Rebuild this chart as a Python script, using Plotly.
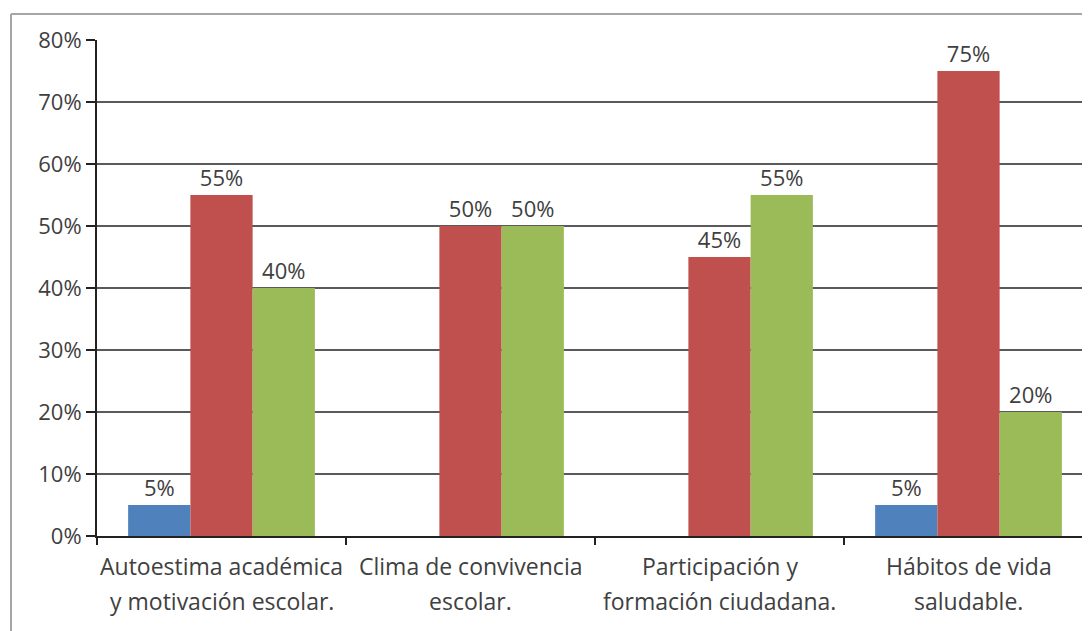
import plotly.graph_objects as go

categories = [
    "Autoestima académica y motivación escolar.",
    "Clima de convivencia escolar.",
    "Participación y formación ciudadana.",
    "Hábitos de vida saludable.",
]
label_line1 = ["Autoestima académica", "Clima de convivencia", "Participación y", "Hábitos de vida"]
label_line2 = ["y motivación escolar.", "escolar.", "formación ciudadana.", "saludable."]

series_names = ["Serie 1", "Serie 2", "Serie 3"]
series_values = [
    [5, 0, 0, 5],
    [55, 50, 45, 75],
    [40, 50, 55, 20],
]
series_colors = ["#4F81BD", "#C0504D", "#9BBB59"]
y_ticks = [0, 10, 20, 30, 40, 50, 60, 70, 80]

FONT = "Open Sans"
OFF = 8  # page body offset
W, H = 1090 - OFF, 631 - OFF
ML, MT = 97 - OFF, 40 - OFF
MB = H - (536 - OFF)
plot_w = W - ML
plot_h = H - MT - MB

fig = go.Figure()
for name, vals, col in zip(series_names, series_values, series_colors):
    fig.add_trace(go.Bar(
        name=name,
        x=categories,
        y=vals,
        marker=dict(color=col, line=dict(width=0)),
        text=[f"{v}%" if v else "" for v in vals],
        textposition="outside",
        textfont=dict(family=FONT, size=22, color="#404040"),
        cliponaxis=False,
    ))

annotations = []
for cat, l1, l2 in zip(categories, label_line1, label_line2):
    for txt, shift in ((l1, -30), (l2, -65)):
        annotations.append(dict(
            x=cat, xref="x", y=0, yref="paper", yanchor="middle",
            yshift=shift, text=txt, showarrow=False,
            font=dict(family=FONT, size=23, color="#404040"),
        ))

# outer frame (left and top edges)
fx = (11 - 97) / plot_w
fy = 1 + (40 - 14) / plot_h
shapes = [
    dict(type="line", xref="paper", yref="paper", x0=fx, x1=fx, y0=-0.5, y1=fy,
         line=dict(color="#A6A6A6", width=2)),
    dict(type="line", xref="paper", yref="paper", x0=fx, x1=1.2, y0=fy, y1=fy,
         line=dict(color="#A6A6A6", width=2)),
]

fig.update_layout(
    width=W, height=H,
    margin=dict(l=ML, r=0, t=MT, b=MB),
    paper_bgcolor="white", plot_bgcolor="white",
    barmode="group", bargap=0.25, bargroupgap=0,
    showlegend=False,
    annotations=annotations,
    shapes=shapes,
    font=dict(family=FONT, size=22, color="#404040"),
    xaxis=dict(
        type="category",
        range=[-0.5, -0.5 + plot_w / 249.0],
        showticklabels=False,
        tickson="boundaries",
        ticks="outside", ticklen=7, tickwidth=2, tickcolor="#222",
        showline=True, linecolor="#222", linewidth=2,
        showgrid=False, fixedrange=True,
    ),
    yaxis=dict(
        range=[0, 80],
        tickvals=y_ticks,
        ticktext=[f"{v}%" for v in y_ticks],
        ticks="outside", ticklen=9, tickwidth=1.5, tickcolor="#222",
        showline=True, linecolor="#222", linewidth=2,
        showgrid=True, gridcolor="#5A5A5A", gridwidth=1.5,
        zeroline=False,
        tickfont=dict(family=FONT, size=22, color="#404040"),
    ),
)

fig.write_html("out.html")
